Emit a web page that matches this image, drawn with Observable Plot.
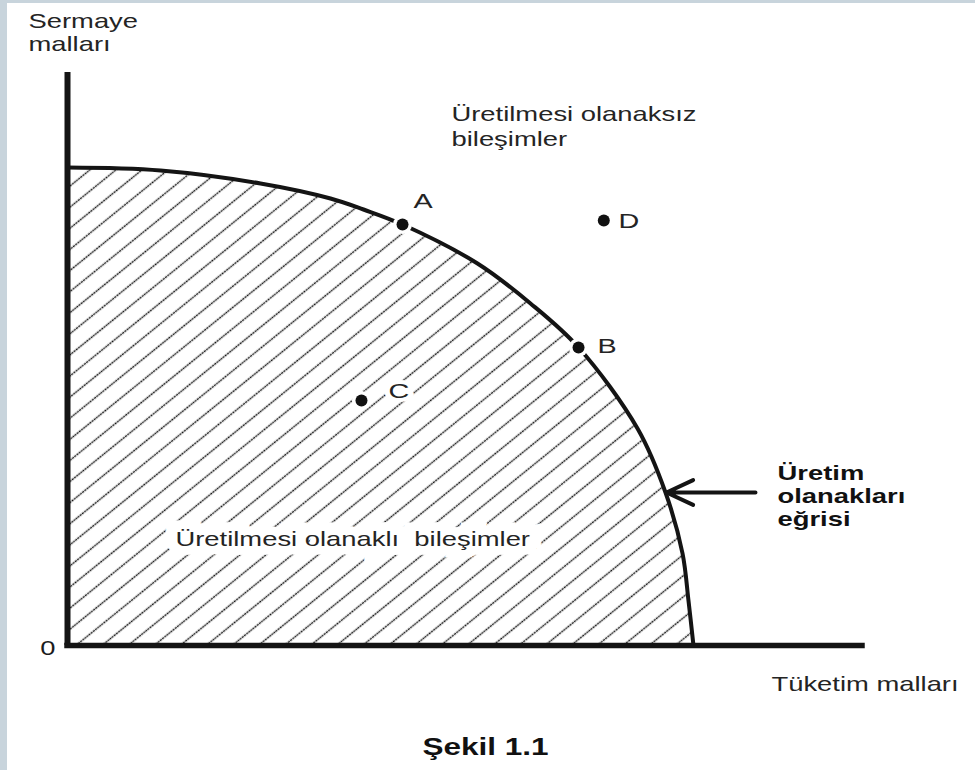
<!DOCTYPE html>
<html>
<head>
<meta charset="utf-8">
<script src="https://cdn.jsdelivr.net/npm/d3@7"></script>
<script src="https://cdn.jsdelivr.net/npm/@observablehq/plot@0.6"></script>
<style>
  html, body { margin: 0; padding: 0; background: #fff; }
  #page { position: relative; width: 975px; height: 770px; overflow: hidden; background: #fff; }
  #stripL { position: absolute; left: 0; top: 0; width: 7px; height: 770px; background: #c8d4dc; }
  #stripT { position: absolute; left: 0; top: 0; width: 975px; height: 3px; background: #c8d4dc; }
  #chart { position: absolute; left: 0; top: 0; }
</style>
</head>
<body>
<div id="page"><div id="stripL"></div><div id="stripT"></div><div id="chart"></div></div>
<script>
// Production possibilities frontier (arbitrary units 0–100)
const curveX = [0, 11.70, 24.28, 33.08, 37.23, 42.14, 51.57, 58.24, 64.28, 71.70, 75.22, 77.36, 78.11, 78.74];
const curveY = [83.42, 82.90, 80.63, 78.01, 76.09, 73.47, 66.67, 59.69, 52.01, 37.87, 26.70, 16.06, 7.85, 0];

// Named points
const pointNames = ["A", "B", "C", "D"];
const pointX = [42.14, 64.28, 36.98, 67.46];
const pointY = [73.47, 52.01, 42.76, 74.17];
const pointLabelX = [43.52, 66.67, 40.38, 69.31];
const pointLabelY = [79.04, 53.73, 45.88, 75.55];

// Tick labels
const yTicks = [0];

// Annotation texts
const yTitle = "Sermaye\nmalları";
const xTitle = "Tüketim malları";
const infeasibleText = "Üretilmesi olanaksız\nbileşimler";
const feasibleText = "Üretilmesi olanaklı  bileşimler";
const curveText = "Üretim\nolanakları\neğrisi";
const figureText = "Şekil 1.1";
const annX = { yTitle: -4.91, xTitle: 88.55, infeasible: 48.30, feasible: 13.58, curve: 89.31, figure: 44.65 };
const annY = { yTitle: 110.68, xTitle: -5.38, infeasible: 94.62, feasible: 19.93, curve: 31.80, figure: -16.23 };
const arrowFrom = [86.54, 26.70];
const arrowTo = [75.35, 26.70];

const curve = curveX.map((x, i) => ({x, y: curveY[i]}));
const points = pointNames.map((name, i) => ({name, x: pointX[i], y: pointY[i], lx: pointLabelX[i], ly: pointLabelY[i]}));

const font = "'Liberation Sans', Arial, Helvetica, sans-serif";
const ink = "#1c1c1c";

const chart = Plot.plot({
  width: 975,
  height: 770,
  marginLeft: 67,
  marginRight: 113,
  marginTop: 72,
  marginBottom: 125,
  x: {domain: [0, 100], axis: null},
  y: {domain: [0, 100], axis: null},
  style: {background: "transparent", fontFamily: font, color: ink, overflow: "visible"},
  marks: [
    Plot.areaY(curve, {x: "x", y: "y", curve: "catmull-rom", fill: "url(#hatch)"}),
    Plot.text([feasibleText], {x: annX.feasible, y: annY.feasible, text: d => d, textAnchor: "start", lineAnchor: "top",
      fontSize: 20, fill: "#242424", stroke: "white", strokeWidth: 17, strokeLinejoin: "miter"}),
    Plot.line(curve, {x: "x", y: "y", curve: "catmull-rom", stroke: "#141414", strokeWidth: 4}),
    Plot.ruleX([0], {y1: 0, y2: 100, stroke: "#141414", strokeWidth: 6}),
    Plot.ruleY([0], {x1: 0, x2: 100, stroke: "#141414", strokeWidth: 5.5, strokeLinecap: "square"}),
    Plot.axisY({ticks: yTicks, tickSize: 0, tickPadding: 12, fontSize: 20, label: null, dy: 3, tickFormat: d => String(d), fill: ink}),
    Plot.dot(points, {x: "x", y: "y", r: 9.5, fill: "white"}),
    Plot.dot(points, {x: "x", y: "y", r: 6, fill: "#111"}),
    Plot.text(points, {x: "lx", y: "ly", text: "name", textAnchor: "start", lineAnchor: "top", fontSize: 21,
      fill: "#242424", stroke: "white", strokeWidth: 8}),
    Plot.arrow([{x1: arrowFrom[0], y1: arrowFrom[1], x2: arrowTo[0], y2: arrowTo[1]}],
      {x1: "x1", y1: "y1", x2: "x2", y2: "y2", stroke: "#141414", strokeWidth: 4, headLength: 11, headAngle: 50}),
    Plot.text([yTitle], {x: annX.yTitle, y: annY.yTitle, text: d => d, textAnchor: "start", lineAnchor: "top",
      fontSize: 20, lineHeight: 1.15, fill: "#242424"}),
    Plot.text([infeasibleText], {x: annX.infeasible, y: annY.infeasible, text: d => d, textAnchor: "start", lineAnchor: "top",
      fontSize: 20, lineHeight: 1.25, fill: "#242424"}),
    Plot.text([curveText], {x: annX.curve, y: annY.curve, text: d => d, textAnchor: "start", lineAnchor: "top",
      fontSize: 20, lineHeight: 1.15, fontWeight: "bold", fill: "#111"}),
    Plot.text([xTitle], {x: annX.xTitle, y: annY.xTitle, text: d => d, textAnchor: "start", lineAnchor: "top",
      fontSize: 20, fill: "#242424"}),
    Plot.text([figureText], {x: annX.figure, y: annY.figure, text: d => d, textAnchor: "start", lineAnchor: "top",
      fontSize: 23, fontWeight: "bold", fill: "#111"})
  ]
});

document.getElementById("chart").appendChild(chart);

// hatch pattern definition
const svg = d3.select(chart);
const defs = svg.insert("defs", ":first-child");
const pat = defs.append("pattern")
  .attr("id", "hatch")
  .attr("patternUnits", "userSpaceOnUse")
  .attr("width", 16.4)
  .attr("height", 16.4)
  .attr("patternTransform", "rotate(-39)");
pat.append("line")
  .attr("x1", 0).attr("y1", 8.2).attr("x2", 16.4).attr("y2", 8.2)
  .attr("stroke", "#151515")
  .attr("stroke-width", 1.6)
  .attr("stroke-dasharray", "2.1 0.633");

// the original lettering is horizontally wide: stretch glyphs about their anchor
const K = 1.37;
chart.querySelectorAll("text").forEach(t => {
  let tr = t.getAttribute("transform");
  if (tr == null) {
    const x = t.getAttribute("x") || 0, y = t.getAttribute("y") || 0;
    tr = `translate(${x},${y})`;
    t.removeAttribute("x"); t.removeAttribute("y");
  }
  t.setAttribute("transform", tr + ` scale(${K},1)`);
  t.style.whiteSpace = "pre";
});
</script>
</body>
</html>
